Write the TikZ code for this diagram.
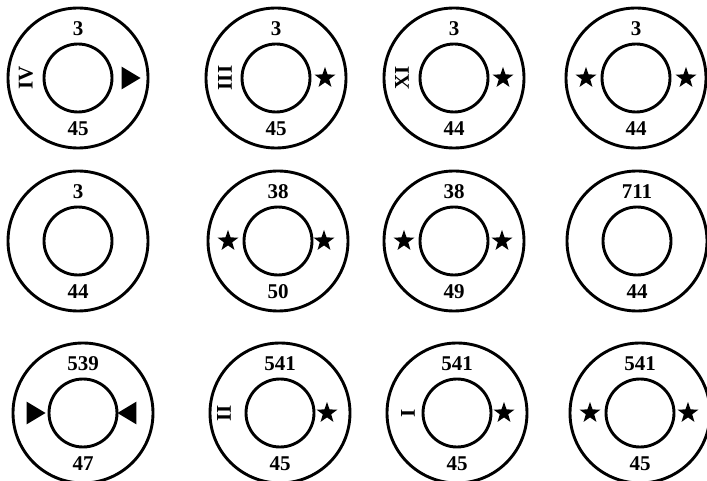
\documentclass[tikz,border=0pt]{standalone}
\usepackage{fontspec}
\setmainfont{Liberation Serif}
\usetikzlibrary{shapes.geometric}
\tikzset{
 outerring/.style={circle,draw,line width=2.9pt,minimum size=140pt,inner sep=0pt},
 innerring/.style={circle,draw,line width=2.9pt,minimum size=68pt,inner sep=0pt},
 lbl/.style={font=\fontsize{21}{21}\selectfont\bfseries,inner sep=0pt},
 mystar/.style={star,star points=5,star point ratio=2.5,fill,minimum size=22pt,inner sep=0pt},
 tri/.style={isosceles triangle,isosceles triangle apex angle=62,fill,minimum height=19pt,inner sep=0pt}
}
\newcommand\myring[5]{%
  \node[outerring] (#1o) at (#2,#3) {};
  \node[innerring] (#1i) at (#2,#3) {};
  \node[lbl] (#1t) at ([yshift=49.5pt]#1o.center) {#4};
  \node[lbl] (#1b) at ([yshift=-51pt]#1o.center) {#5};
}
\begin{document}
\begin{tikzpicture}[x=1pt,y=-1pt]
\clip (0,0) rectangle (707,481);
\fill[white] (0,0) rectangle (707,481);
% row 1
\myring{a}{78}{78}{3}{45}
\node[lbl,rotate=90] (aL) at ([xshift=-52pt]ao.center) {IV};
\node[tri] (aR) at ([xshift=50pt]ao.center) {};
\myring{b}{276}{78}{3}{45}
\node[lbl,rotate=90] (bL) at ([xshift=-51pt]bo.center) {III};
\node[mystar] (bR) at ([xshift=49pt]bo.center) {};
\myring{c}{454}{78}{3}{44}
\node[lbl,rotate=90] (cL) at ([xshift=-52pt]co.center) {XI};
\node[mystar] (cR) at ([xshift=49pt]co.center) {};
\myring{d}{636}{78}{3}{44}
\node[mystar] (dL) at ([xshift=-50pt]do.center) {};
\node[mystar] (dR) at ([xshift=50pt]do.center) {};
% row 2
\myring{e}{78}{241}{3}{44}
\myring{f}{278}{241}{38}{50}
\node[mystar] (fL) at ([xshift=-50pt]fo.center) {};
\node[mystar] (fR) at ([xshift=46pt]fo.center) {};
\myring{g}{454}{241}{38}{49}
\node[mystar] (gL) at ([xshift=-50pt]go.center) {};
\node[mystar] (gR) at ([xshift=48pt]go.center) {};
\myring{h}{637}{241}{711}{44}
% row 3
\myring{i}{83}{413}{539}{47}
\node[tri] (iL) at ([xshift=-50pt]io.center) {};
\node[tri,shape border rotate=180] (iR) at ([xshift=47pt]io.center) {};
\myring{j}{280}{413}{541}{45}
\node[lbl,rotate=90] (jL) at ([xshift=-56pt]jo.center) {II};
\node[mystar] (jR) at ([xshift=47pt]jo.center) {};
\myring{k}{457}{413}{541}{45}
\node[lbl,rotate=90] (kL) at ([xshift=-49pt]ko.center) {I};
\node[mystar] (kR) at ([xshift=47pt]ko.center) {};
\myring{l}{640}{413}{541}{45}
\node[mystar] (lL) at ([xshift=-50pt]lo.center) {};
\node[mystar] (lR) at ([xshift=48pt]lo.center) {};
\end{tikzpicture}
\end{document}
